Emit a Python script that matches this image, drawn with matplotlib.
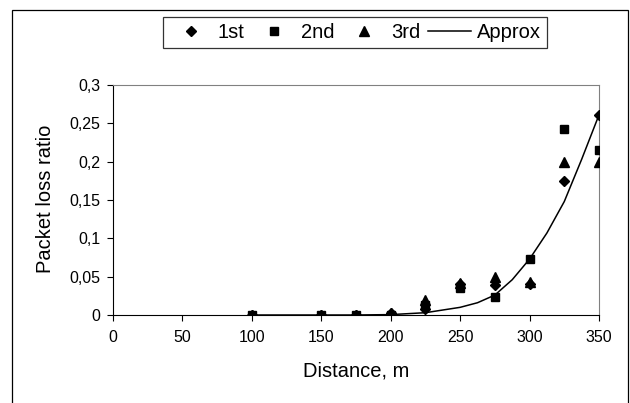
import matplotlib.pyplot as plt
from matplotlib.patches import Rectangle

plt.rcParams['font.family'] = ['Liberation Sans', 'DejaVu Sans']

distance = [100, 150, 175, 200, 225, 250, 275, 300, 325, 350]
loss_1st = [0, 0, 0, 0.003, 0.008, 0.041, 0.039, 0.041, 0.175, 0.261]
loss_2nd = [0, 0, 0, 0, 0.013, 0.035, 0.023, 0.073, 0.243, 0.215]
loss_3rd = [0, 0, 0, 0.002, 0.019, 0.042, 0.050, 0.043, 0.200, 0.200]

# approximation curve
approx_x = [100, 150, 175, 200, 225, 250, 262.5, 275, 287.5, 300, 312.5, 325, 337.5, 350]
approx_y = [0, 0, 0, 0.0005, 0.003, 0.010, 0.016, 0.026, 0.046, 0.073, 0.107, 0.148, 0.203, 0.261]

x_ticks = [0, 50, 100, 150, 200, 250, 300, 350]
y_ticks = [0, 0.05, 0.1, 0.15, 0.2, 0.25, 0.3]
y_labels = ['0', '0,05', '0,1', '0,15', '0,2', '0,25', '0,3']

fig = plt.figure(figsize=(6.3, 4.03), dpi=100)
ax = fig.add_axes([113 / 630, 1 - 315 / 403, 486 / 630, 230 / 403])

# outer chart border (bottom edge is cut off in the original)
fig.patches.append(Rectangle((12 / 630, -0.1), 616 / 630, 1.1 - 10 / 403,
                             transform=fig.transFigure, fill=False,
                             edgecolor='black', linewidth=0.9))

ax.plot(distance, loss_1st, 'D', color='black', markersize=5.5, label='1st', zorder=3)
ax.plot(distance, loss_2nd, 's', color='black', markersize=6, label='2nd', zorder=3)
ax.plot(distance, loss_3rd, '^', color='black', markersize=7, label='3rd', zorder=3)
ax.plot(approx_x, approx_y, '-', color='black', linewidth=1.1, label='Approx', zorder=2)

ax.set_xlim(0, 350)
ax.set_ylim(0, 0.3)
ax.set_xticks(x_ticks)
ax.set_yticks(y_ticks)
ax.set_yticklabels(y_labels)
ax.tick_params(direction='out', length=4, width=0.8, labelsize=11.5, colors='black')
ax.tick_params(axis='x', pad=7)
ax.tick_params(axis='y', pad=5)

for side in ['top', 'right']:
    ax.spines[side].set_color('#808080')
for side in ['left', 'bottom']:
    ax.spines[side].set_color('black')

ax.set_xlabel('Distance, m', fontsize=14.5)
ax.set_ylabel('Packet loss ratio', fontsize=14.5)
ax.xaxis.set_label_coords(0.5, -56 / 230)
ax.xaxis.label.set_va('center')
ax.yaxis.set_label_coords(-67 / 486, 116 / 230)
ax.yaxis.label.set_va('center')

leg = fig.legend(loc='center', bbox_to_anchor=(355 / 630, 1 - 32.5 / 403), ncol=4,
                 fontsize=14.5, frameon=True, fancybox=False, edgecolor='black',
                 handlelength=2.1, handletextpad=0.3, columnspacing=0.4,
                 borderpad=0.3)
leg.get_frame().set_linewidth(0.9)

fig.savefig('out.png', dpi=100)
